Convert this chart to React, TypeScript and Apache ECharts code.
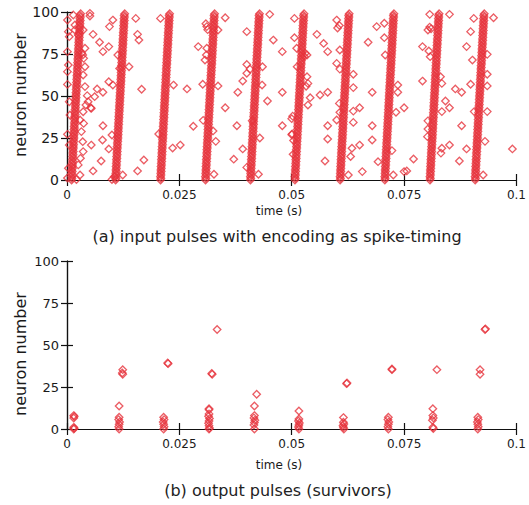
import React, { useEffect, useRef } from "react";
import * as echarts from "echarts";

// ---- data (time in ms, neuron index) ----
const cycleStartsMs = [0.2, 10.0, 20.0, 30.0, 40.0, 49.9, 59.95, 69.9, 79.95, 90.0];

// per-neuron firing delay inside each cycle (ms), neurons 0..99
const neuronDelayMs = [
  0.82, 0.9, 0.79, 0.93, 0.85, 0.97, 0.88, 1.0, 0.91, 1.04,
  0.96, 1.08, 0.99, 1.12, 1.03, 1.16, 1.07, 1.2, 1.11, 1.23,
  1.15, 1.27, 1.19, 1.31, 1.24, 1.36, 1.27, 1.4, 1.31, 1.44,
  1.35, 1.47, 1.39, 1.52, 1.43, 1.55, 1.47, 1.6, 1.51, 1.63,
  1.55, 1.68, 1.59, 1.71, 1.63, 1.76, 1.67, 1.79, 1.71, 1.84,
  1.75, 1.87, 1.79, 1.92, 1.83, 1.95, 1.87, 2.0, 1.91, 2.04,
  1.95, 2.08, 1.99, 2.11, 2.03, 2.16, 2.07, 2.19, 2.11, 2.24,
  2.15, 2.27, 2.19, 2.32, 2.23, 2.35, 2.27, 2.4, 2.31, 2.43,
  2.35, 2.48, 2.39, 2.51, 2.43, 2.56, 2.47, 2.59, 2.51, 2.64,
  2.55, 2.67, 2.59, 2.71, 2.63, 2.76, 2.67, 2.79, 2.71, 2.84,
];

// scattered input spikes outside the main bands [ms, neuron]
const scatteredInput: number[][] = [
  [0.1, 95.2], [0.3, 88.3], [0.5, 85.3], [0.1, 76.4], [0.3, 68.5], [0.1, 64.5], [0.1, 56.9],
  [0.5, 46.6], [0.66, 38.7], [0.1, 27.2], [0.5, 20.8], [0.3, 7], [0.1, 1.2],
  [1.4, 98.2], [1.76, 92.3], [1.76, 89.3], [2.5, 86.3], [3.6, 89.3], [4.0, 78.4], [3.5, 74.4],
  [3.7, 72.4], [3.3, 75.5], [4.0, 67.4], [3.6, 62.5], [4.0, 55.6], [4.5, 50.2], [4.7, 46.6],
  [4.2, 44.6], [5.4, 42.6], [3.6, 40.6], [2.9, 35.7], [3.7, 33.7], [3.2, 28.8], [3.5, 22.8],
  [3.6, 16.9], [3.0, 12.9], [2.5, 9], [2.9, 3], [2.1, 0.3], [5.1, 99.2], [5.1, 97.6],
  [10.2, 95.2], [9.45, 91.3], [5.8, 86.7], [7.25, 82], [9.3, 79.4], [8.0, 76.4], [13.8, 67.4],
  [15.3, 96.2], [16.0, 83.3], [15.7, 86.7], [9.3, 58.5], [10.2, 56.5], [6.7, 54.2], [8.0, 52.2],
  [16.6, 54], [6.15, 49.6], [5.3, 43], [8.0, 32.3], [10.0, 26.8], [7.9, 23.8], [9.3, 18.5],
  [5.4, 20.8], [7.6, 11.3], [5.8, 5.4], [17.1, 11.9], [15.7, 5.4], [12.4, 3], [20.8, 96.2],
  [23.7, 56.5], [23.5, 19], [20.4, 27.4], [11.3, 74.4], [11.7, 66.4], [10.5, 2], [10.0, 0.3],
  [26.7, 54.2], [25.2, 20.8], [29.2, 79.4], [31.1, 91.3], [30.9, 93], [31.3, 89.5], [31.1, 78.4],
  [31.0, 74.4], [30.7, 71.4], [30.2, 57], [33.6, 89.3], [33.6, 56], [35.2, 96.6], [35.2, 43],
  [28.1, 32], [30.3, 35.5], [32.5, 29.2], [33.1, 23], [32.7, 3.4], [38.0, 52.2], [37.8, 32.3],
  [37.1, 12.4], [39.1, 18.5], [39.1, 58.9], [40.0, 88.3], [40.0, 68.8], [40.0, 63.5], [40.7, 66],
  [41.2, 35.2], [40.0, 7.5], [42.6, 3.4], [43.5, 67.4], [43.4, 56.5], [44.6, 47], [42.9, 25],
  [45.1, 98.6], [45.9, 83.3], [47.9, 76.4], [47.9, 52.2], [47.9, 32.3], [50.0, 27],
  [50.6, 96.2], [50.6, 84.7], [51.1, 78.4], [53.4, 74.4], [53.0, 75.5], [52.8, 73.5], [51.2, 67.4],
  [53.4, 61.5], [53.6, 57.5], [53.2, 55.8], [54.1, 49], [53.6, 44.6], [56.3, 50.6], [58.0, 52.2],
  [55.6, 86.7], [57.1, 81.3], [58.0, 76.4], [60.0, 95.2], [60.2, 90.5], [60.6, 92], [60.7, 77.4],
  [60.0, 69.4], [60.7, 66], [60.6, 45.6], [60.7, 40.3], [60.0, 35.7], [58.0, 32.3], [58.0, 24.4],
  [57.4, 11.3], [50.1, 27.4], [50.4, 23.5], [50.3, 15.3], [50.2, 38], [50.0, 36.5],
  [63.7, 62.9], [63.7, 55], [65.1, 43], [63.7, 41], [63.7, 34.3], [65.1, 20.8], [63.4, 18.9],
  [63.1, 14], [62.6, 3], [65.7, 5], [67.0, 82], [67.9, 52.2], [67.9, 32.3], [67.9, 23.8],
  [68.9, 91.3], [70.6, 93.3], [70.6, 84.7], [70.8, 74.4], [69.2, 10.9], [73.6, 56.5], [73.6, 52.2],
  [73.2, 40.3], [75.0, 43], [72.3, 17.5], [72.6, 3], [75.0, 5],
  [77.1, 12.5], [75.6, 5.4], [79.1, 79.4], [79.1, 58.9], [80.3, 89.3], [80.7, 91], [81.0, 90],
  [80.7, 98.6], [80.5, 76.8], [80.8, 73.4], [80.3, 35.2], [80.3, 30.4], [80.2, 25.8], [83.1, 61.5],
  [83.4, 57.5], [83.4, 40.7], [84.2, 47], [85.1, 43], [83.4, 18.9], [83.2, 16], [85.1, 20.8],
  [85.1, 98.6], [86.4, 54.2], [87.8, 52.2], [87.8, 32.3], [87.3, 11.3], [88.9, 79.4], [89.8, 88.3],
  [90.2, 71.4], [89.8, 57], [90.5, 96.2], [88.9, 18.5], [90.6, 40.7], [93.5, 62.9], [93.5, 56],
  [93.5, 40.7], [93.0, 23], [92.6, 3], [94.9, 96.6], [99.1, 18.5], [93.5, 74.8],
];

// output pulses (survivors) [ms, neuron]
const outputPulses: number[][] = [
  [1.5, 8], [1.6, 7.4], [1.5, 6.5], [1.5, 1], [1.6, 0.4], [1.5, 0],
  [11.6, 13.7], [11.6, 7], [11.5, 5.6], [11.7, 4.2], [11.6, 2.8], [11.5, 1.4], [11.6, 0],
  [12.4, 35.3], [12.4, 32.6], [12.3, 33.4],
  [21.5, 7], [21.6, 5.6], [21.4, 4.2], [21.5, 2.8], [21.6, 1.4], [21.5, 0], [22.5, 38.9], [22.4, 39.3],
  [31.6, 12.1], [31.6, 11.5], [31.6, 9], [31.5, 7.6], [31.7, 6.2], [31.6, 4.8], [31.5, 3.4], [31.6, 2],
  [31.7, 0.6], [31.6, 0], [32.3, 32.6], [32.2, 33.1], [33.4, 59.2],
  [41.7, 13.7], [41.7, 8], [41.6, 6.6], [41.8, 5.2], [41.7, 3.8], [41.6, 2.4], [41.7, 0], [42.2, 20.7],
  [51.6, 10.7], [51.6, 6], [51.5, 4.8], [51.7, 3.6], [51.6, 2.4], [51.5, 1.2], [51.6, 0],
  [61.5, 6.8], [61.5, 4], [61.6, 3], [61.4, 2], [61.5, 1], [61.6, 0], [62.2, 27], [62.3, 27.4],
  [71.5, 7], [71.4, 5.6], [71.6, 4.2], [71.5, 2.8], [71.4, 1.4], [71.5, 0], [72.3, 35.3], [72.3, 35.7],
  [81.4, 12.1], [81.4, 8], [81.5, 6.6], [81.3, 5.2], [81.4, 1], [81.5, 0.3], [82.3, 35.3],
  [91.4, 7], [91.5, 5.6], [91.3, 4.2], [91.4, 2.8], [91.5, 1.4], [91.4, 0],
  [91.9, 35.3], [91.9, 32.6], [93.0, 59.2], [93.1, 59.6],
];

const xTicksMs = { min: 0, max: 100, interval: 25 };
const yTicks = { min: 0, max: 100, interval: 25 };

const RED = "#e6333c";
const FONT = "DejaVu Sans";

function makeAxes(gridIndex: number, yFont: number) {
  const line = { show: true, lineStyle: { color: "#111", width: 1.2 } };
  const tick = { show: true, inside: true, length: 6, lineStyle: { color: "#111", width: 1.2 } };
  const x = [
    {
      type: "value", gridIndex, position: "bottom", ...xTicksMs,
      axisLine: line, axisTick: tick, splitLine: { show: false },
      axisLabel: {
        show: true, margin: 9, fontSize: 12, color: "#1a1a1a", fontFamily: FONT,
        formatter: (v: number) => String(+(v / 1000).toFixed(3)),
      },
    },
    {
      type: "value", gridIndex, position: "top", ...xTicksMs,
      axisLine: line, axisTick: tick, splitLine: { show: false }, axisLabel: { show: false },
    },
  ];
  const y = [
    {
      type: "value", gridIndex, position: "left", ...yTicks,
      axisLine: line, axisTick: tick, splitLine: { show: false },
      axisLabel: { show: true, margin: 8, fontSize: yFont, color: "#1a1a1a", fontFamily: FONT },
    },
    {
      type: "value", gridIndex, position: "right", ...yTicks,
      axisLine: line, axisTick: tick, splitLine: { show: false }, axisLabel: { show: false },
    },
  ];
  return { x, y };
}

export default function App() {
  const ref = useRef<HTMLDivElement>(null);
  useEffect(() => {
    if (!ref.current) return;
    const chart = echarts.init(ref.current, null, { renderer: "svg" });
    const a0 = makeAxes(0, 14);
    const a1 = makeAxes(1, 13);
    const bandData = cycleStartsMs.flatMap((c) => neuronDelayMs.map((d, n) => [c + d, n]));
    const symbolStyle = {
      type: "scatter",
      symbol: "diamond",
      symbolSize: [7.5, 7.5],
      large: false,
      itemStyle: { color: "rgba(0,0,0,0)", borderColor: RED, borderWidth: 1.3 },
      emphasis: { disabled: true },
      silent: true,
    };
    chart.setOption({
      animation: false,
      backgroundColor: "#ffffff",
      textStyle: { fontFamily: FONT },
      grid: [
        { left: 67, top: 12, width: 455, height: 168 },
        { left: 67, top: 261, width: 455, height: 168 },
      ],
      xAxis: [...a0.x, ...a1.x],
      yAxis: [...a0.y, ...a1.y],
      series: [
        { ...symbolStyle, name: "input bands", xAxisIndex: 0, yAxisIndex: 0, data: bandData },
        { ...symbolStyle, name: "input scattered", xAxisIndex: 0, yAxisIndex: 0, data: scatteredInput },
        { ...symbolStyle, name: "output", xAxisIndex: 2, yAxisIndex: 2, data: outputPulses },
      ],
      graphic: [
        {
          type: "text", x: 20, y: 95, rotation: Math.PI / 2,
          style: { text: "neuron number", fontSize: 16, fontFamily: FONT, fill: "#1a1a1a", align: "center", verticalAlign: "middle" },
        },
        {
          type: "text", x: 20, y: 354, rotation: Math.PI / 2,
          style: { text: "neuron number", fontSize: 16, fontFamily: FONT, fill: "#1a1a1a", align: "center", verticalAlign: "middle" },
        },
        {
          type: "text", x: 279, y: 211,
          style: { text: "time (s)", fontSize: 12, fontFamily: FONT, fill: "#1a1a1a", align: "center", verticalAlign: "middle" },
        },
        {
          type: "text", x: 279, y: 465,
          style: { text: "time (s)", fontSize: 12, fontFamily: FONT, fill: "#1a1a1a", align: "center", verticalAlign: "middle" },
        },
        {
          type: "text", x: 277, y: 236,
          style: { text: "(a) input pulses with encoding as spike-timing", fontSize: 16, fontFamily: FONT, fill: "#222", align: "center", verticalAlign: "middle" },
        },
        {
          type: "text", x: 278, y: 490,
          style: { text: "(b) output pulses (survivors)", fontSize: 16, fontFamily: FONT, fill: "#222", align: "center", verticalAlign: "middle" },
        },
      ],
    });
    return () => chart.dispose();
  }, []);
  return (
    <div
      ref={ref}
      style={{ position: "fixed", left: 0, top: 0, width: 529, height: 505, background: "#fff" }}
    />
  );
}
